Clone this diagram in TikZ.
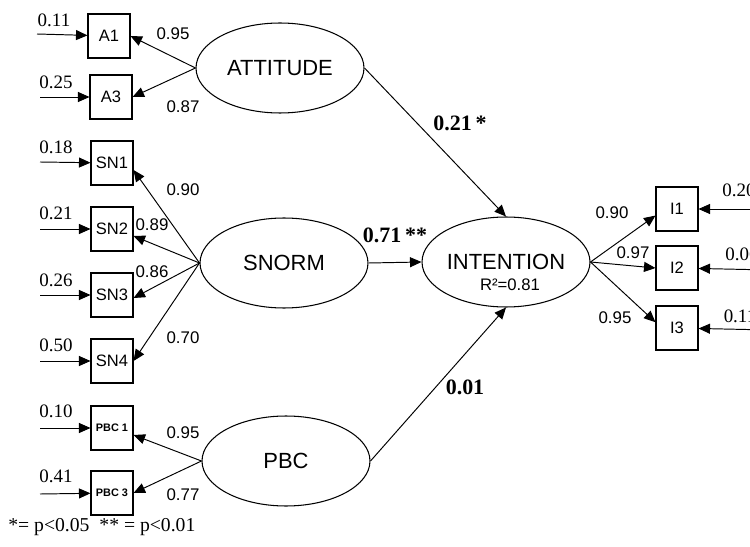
\documentclass[tikz,border=0pt]{standalone}
\usepackage{fontspec}
\setmainfont{Liberation Serif}
\setsansfont{Liberation Sans}
\usepackage{tikz}
\usetikzlibrary{arrows.meta,shapes.geometric}
\definecolor{bg}{HTML}{FFFFFF}
\definecolor{ink}{HTML}{000000}
\tikzset{
  lat/.style={ellipse, draw=ink, line width=0.6pt, minimum width=3.36cm, minimum height=1.8cm, inner sep=0pt, font=\sffamily\fontsize{12.5}{14}\selectfont},
  obs/.style={rectangle, draw=ink, line width=0.6pt, minimum width=0.84cm, minimum height=0.88cm, inner sep=0pt, font=\sffamily\fontsize{9.4}{11}\selectfont},
  obss/.style={obs, font=\sffamily\bfseries\fontsize{6.2}{7}\selectfont},
  arr/.style={draw=ink, line width=0.55pt, -{Triangle[length=2.3mm,width=2mm]}},
  load/.style={text=ink, inner sep=0pt, font=\sffamily\fontsize{9.6}{11}\selectfont},
  err/.style={text=ink, inner sep=0pt, font=\rmfamily\fontsize{10.8}{12}\selectfont},
  coef/.style={text=ink, inner sep=0pt, font=\rmfamily\bfseries\fontsize{12.5}{14}\selectfont},
  note/.style={text=ink, inner sep=0pt, font=\rmfamily\fontsize{11.2}{13}\selectfont},
}

\begin{document}
\begin{tikzpicture}[x=0.02cm, y=-0.02cm]
\useasboundingbox (0,0) rectangle (750,547);
\fill[bg] (0,0) rectangle (750,547);

% latent variables
\node[lat] (att) at (280,68) {ATTITUDE};
\node[lat] (sn) at (284,263) {SNORM};
\node[lat] (pbc) at (286,461) {PBC};
\node[lat] (int) at (506,262) {INTENTION};
\node[load, font=\sffamily\fontsize{9.5}{11}\selectfont] (rsq) at (510,285) {R²=0.81};

% indicators
\node[obs] (a1) at (109,36) {A1};
\node[obs] (a3) at (111,97) {A3};
\node[obs] (sn1) at (112,163) {SN1};
\node[obs] (sn2) at (112,229) {SN2};
\node[obs] (sn3) at (112,295) {SN3};
\node[obs] (sn4) at (112,361) {SN4};
\node[obss] (pbc1) at (112,428) {PBC 1};
\node[obss] (pbc3) at (112,493) {PBC 3};
\node[obs] (i1) at (677,209) {I1};
\node[obs] (i2) at (677,268) {I2};
\node[obs] (i3) at (677,328) {I3};

% error terms
\coordinate (ea1) at (37,34);
\coordinate (ea3) at (40,97);
\coordinate (esn1) at (40,162);
\coordinate (esn2) at (40,229);
\coordinate (esn3) at (40,295);
\coordinate (esn4) at (40,361);
\coordinate (epbc1) at (40,428);
\coordinate (epbc3) at (40,494);
\coordinate (ei1) at (770,209);
\coordinate (ei2) at (770,270);
\coordinate (ei3) at (770,330);
\foreach \e/\o in {ea1/a1, ea3/a3, esn1/sn1, esn2/sn2, esn3/sn3, esn4/sn4, epbc1/pbc1, epbc3/pbc3, ei1/i1, ei2/i2, ei3/i3}
  \draw[arr] (\e) -- (\o);
\node[err] at (54,20) {0.11};
\node[err] at (56,82) {0.25};
\node[err] at (56,147) {0.18};
\node[err] at (56,213) {0.21};
\node[err] at (56,280) {0.26};
\node[err] at (56,345) {0.50};
\node[err] at (56,411) {0.10};
\node[err] at (56,476) {0.41};
\node[err] at (739,190) {0.20};
\node[err] at (742,254) {0.06};
\node[err] at (740,316) {0.11};

% loadings
\draw[arr] (att.west) -- (a1.east);
\draw[arr] (att.west) -- (a3.east);
\draw[arr] (sn.west) -- (sn1.-18);
\draw[arr] (sn.west) -- (sn2.-18);
\draw[arr] (sn.west) -- (sn3.-8);
\draw[arr] (sn.west) -- (sn4.east);
\draw[arr] (pbc.west) -- (pbc1.-18);
\draw[arr] (pbc.west) -- (pbc3.east);
\draw[arr] (int.east) -- (i1.197);
\draw[arr] (int.east) -- (i2.west);
\draw[arr] (int.east) -- (i3.165);
\node[load] at (173,34) {0.95};
\node[load] at (183,107) {0.87};
\node[load] at (183,190) {0.90};
\node[load] at (152,225) {0.89};
\node[load] at (152,272) {0.86};
\node[load] at (183,338) {0.70};
\node[load] at (183,433) {0.95};
\node[load] at (183,495) {0.77};
\node[load] at (612,213) {0.90};
\node[load] at (633,253) {0.97};
\node[load] at (615,318) {0.95};

% structural paths
\draw[arr] (att.east) -- (int.north);
\draw[arr] (sn.east) -- (int.west);
\draw[arr] (pbc.east) -- (int.south);
\node[coef] at (460,123) {0.21\,*};
\node[coef] at (395,235) {0.71\,**};
\node[coef] at (465,387) {0.01};

\node[note, anchor=west] (foot) at (8,527) {*= p<0.05\ \ ** = p<0.01};
\end{tikzpicture}
\end{document}
